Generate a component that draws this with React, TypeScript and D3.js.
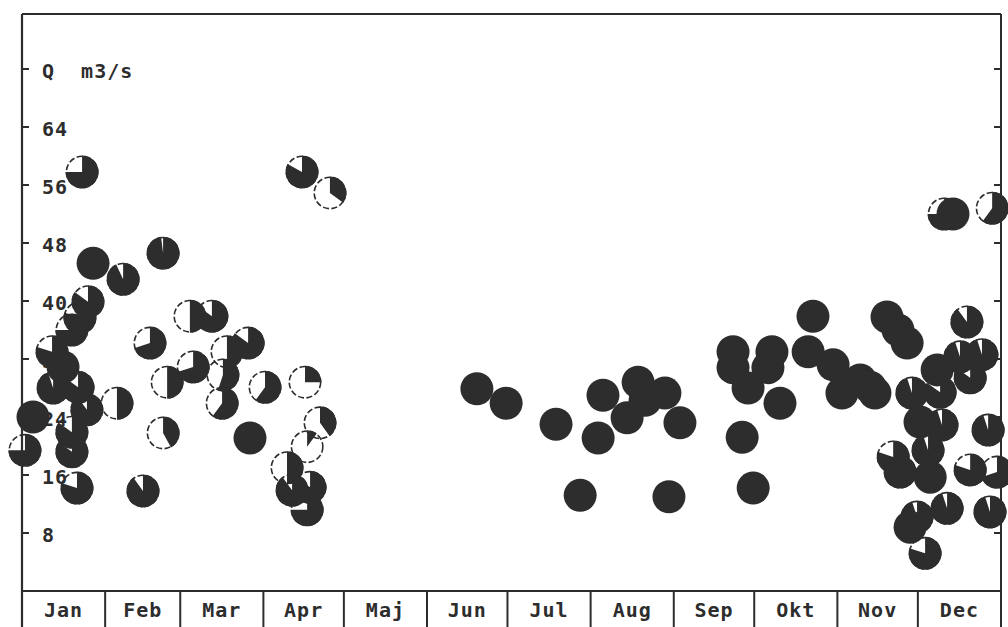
import React from "react";
import * as d3 from "d3";

// Observation day of year, discharge Q (m3/s) and the filled share of each glyph
const days = [
  22.4, 26.5, 37.7, 52.6, 24.6, 21.6, 18.6, 11.2, 15.3, 11.6,
  20.9, 24.2, 35.4, 4.1, 1.1, 18.6, 18.6, 20.5, 45.1, 52.6,
  47.7, 54.1, 63.8, 62.6, 70.8, 76.4, 84.3, 74.9, 74.6, 85.0,
  90.6, 105.5, 111.1, 106.3, 98.8, 100.7, 107.4, 106.3, 104.4, 114.8,
  169.6, 180.5, 199.1, 208.1, 216.6, 214.8, 229.7, 239.7, 225.6, 232.3,
  245.3, 241.2, 265.1, 265.1, 270.7, 268.5, 272.6, 279.6, 278.1, 282.6,
  294.9, 293.1, 302.4, 305.7, 312.5, 318.0, 322.5, 326.6, 330.0, 316.2,
  343.8, 347.1, 361.7, 352.3, 341.2, 349.7, 357.9, 353.5, 331.8, 342.3,
  334.8, 343.0, 360.2, 324.8, 337.8, 338.6, 353.5, 363.5, 333.7, 344.9,
  360.9, 336.7, 331.1, 327.4,
];

const flows = [
  57.8, 45.2, 43.0, 46.6, 39.9, 37.7, 36.0, 33.0, 30.9, 28.0,
  28.1, 25.0, 25.9, 24.0, 19.4, 21.9, 19.2, 14.2, 13.8, 21.8,
  34.2, 28.8, 30.9, 37.9, 37.9, 33.0, 34.2, 29.8, 25.9, 21.1,
  28.1, 28.8, 23.2, 19.9, 17.0, 13.9, 14.3, 11.2, 57.8, 54.9,
  27.9, 25.9, 23.0, 13.2, 27.0, 21.1, 28.8, 27.3, 23.9, 26.3,
  23.2, 13.0, 33.0, 30.8, 28.0, 21.2, 14.2, 33.0, 30.8, 25.9,
  37.9, 33.0, 31.2, 27.3, 29.1, 27.3, 37.8, 36.0, 34.2, 28.1,
  52.0, 52.0, 52.8, 37.1, 30.5, 32.3, 32.6, 29.4, 27.3, 27.4,
  23.3, 22.9, 22.2, 18.5, 19.4, 15.7, 16.7, 16.4, 10.2, 11.4,
  10.9, 5.2, 8.8, 16.4,
];

const shares = [
  0.75, 1, 0.93, 0.98, 0.85, 0.8, 0.75, 0.8, 1, 0.95,
  0.85, 0.9, 0.5, 1, 0.75, 0.85, 0.85, 0.8, 0.9, 0.42,
  0.7, 0.5, 0.7, 0.5, 0.85, 0.5, 0.85, 0.55, 0.6, 1,
  0.6, 0.25, 0.4, 0.1, 0.5, 0.9, 0.85, 0.75, 0.83, 0.35,
  1, 1, 1, 1, 1, 1, 1, 1, 1, 1,
  1, 1, 1, 1, 1, 1, 1, 1, 1, 1,
  1, 1, 1, 1, 1, 1, 1, 1, 1, 1,
  0.75, 1, 0.6, 0.9, 1, 0.95, 0.95, 0.85, 0.95, 0.85,
  1, 0.95, 0.95, 0.8, 0.95, 1, 0.8, 0.7, 0.95, 0.95,
  0.95, 0.8, 1, 0.95,
];

const monthNames = ["Jan", "Feb", "Mar", "Apr", "Maj", "Jun", "Jul", "Aug", "Sep", "Okt", "Nov", "Dec"];
const monthStarts = [0, 31, 59, 90, 120, 151, 181, 212, 243, 273, 304, 334, 365];
const qTicks = [8, 16, 24, 32, 40, 48, 56, 64];
const unitTick = 72;
const unitLabel = "Q  m3/s";

const W = 1008;
const H = 627;
const INK = "#2d2d2d";
const FONT = "'DejaVu Sans Mono', 'Liberation Mono', monospace";

export default function App() {
  const left = 22;
  const right = 1001;
  const top = 14;
  const bottom = 591;

  const x = d3.scaleLinear().domain([0, 365]).range([left, right]);
  const y = d3.scaleLinear().domain([0, 72]).range([bottom, 69]);
  const r = 16.5;
  const arc = d3.arc<{ s: number }>()
    .innerRadius(0)
    .outerRadius(r)
    .startAngle(0)
    .endAngle((d) => d.s * 2 * Math.PI);

  const allTicks = [...qTicks, unitTick];

  return (
    <svg
      width={W}
      height={H}
      viewBox={`0 0 ${W} ${H}`}
      style={{ position: "absolute", left: 0, top: 0, background: "#fff" }}
    >
      <rect x={0} y={0} width={W} height={H} fill="#fff" />

      {/* frame */}
      <line x1={left} x2={right} y1={top} y2={top} stroke={INK} strokeWidth={2} />
      <line x1={left} x2={left} y1={top} y2={H} stroke={INK} strokeWidth={2.2} />
      <line x1={right} x2={right} y1={top} y2={H} stroke={INK} strokeWidth={2} />
      <line x1={left} x2={right} y1={bottom} y2={bottom} stroke={INK} strokeWidth={2} />

      {/* ticks on both sides */}
      {allTicks.map((t) => (
        <g key={`t${t}`}>
          <line x1={left} x2={left + 7} y1={y(t)} y2={y(t)} stroke={INK} strokeWidth={2} />
          <line x1={right - 7} x2={right} y1={y(t)} y2={y(t)} stroke={INK} strokeWidth={2} />
        </g>
      ))}

      {/* tick labels */}
      {qTicks.map((t) => (
        <text
          key={`l${t}`}
          x={42}
          y={y(t) + 9}
          fontFamily={FONT}
          fontWeight="bold"
          fontSize={20}
          letterSpacing={1}
          fill={INK}
        >
          {t}
        </text>
      ))}
      <text
        x={42}
        y={y(unitTick) + 9}
        fontFamily={FONT}
        fontWeight="bold"
        fontSize={20}
        letterSpacing={1}
        fill={INK}
        style={{ whiteSpace: "pre" }}
      >
        {unitLabel}
      </text>

      {/* month boxes */}
      {monthStarts.slice(1, -1).map((d) => (
        <line key={`m${d}`} x1={x(d)} x2={x(d)} y1={bottom} y2={H} stroke={INK} strokeWidth={2} />
      ))}
      {monthNames.map((m, i) => (
        <text
          key={m}
          x={(x(monthStarts[i]) + x(monthStarts[i + 1])) / 2}
          y={617}
          textAnchor="middle"
          fontFamily={FONT}
          fontWeight="bold"
          fontSize={20}
          letterSpacing={1}
          fill={INK}
        >
          {m}
        </text>
      ))}

      {/* observation glyphs: dashed outline, filled share drawn clockwise from the top */}
      {days.map((d, i) => {
        const cx = x(d);
        const cy = y(flows[i]);
        const s = shares[i];
        return (
          <g key={`p${i}`} transform={`translate(${cx},${cy})`}>
            {s >= 1 ? (
              <circle r={r} fill={INK} />
            ) : (
              <>
                <circle r={r - 0.8} fill="none" stroke={INK} strokeWidth={1.6} strokeDasharray="6 2.5" />
                <path d={arc({ s }) || ""} fill={INK} />
              </>
            )}
          </g>
        );
      })}
    </svg>
  );
}
